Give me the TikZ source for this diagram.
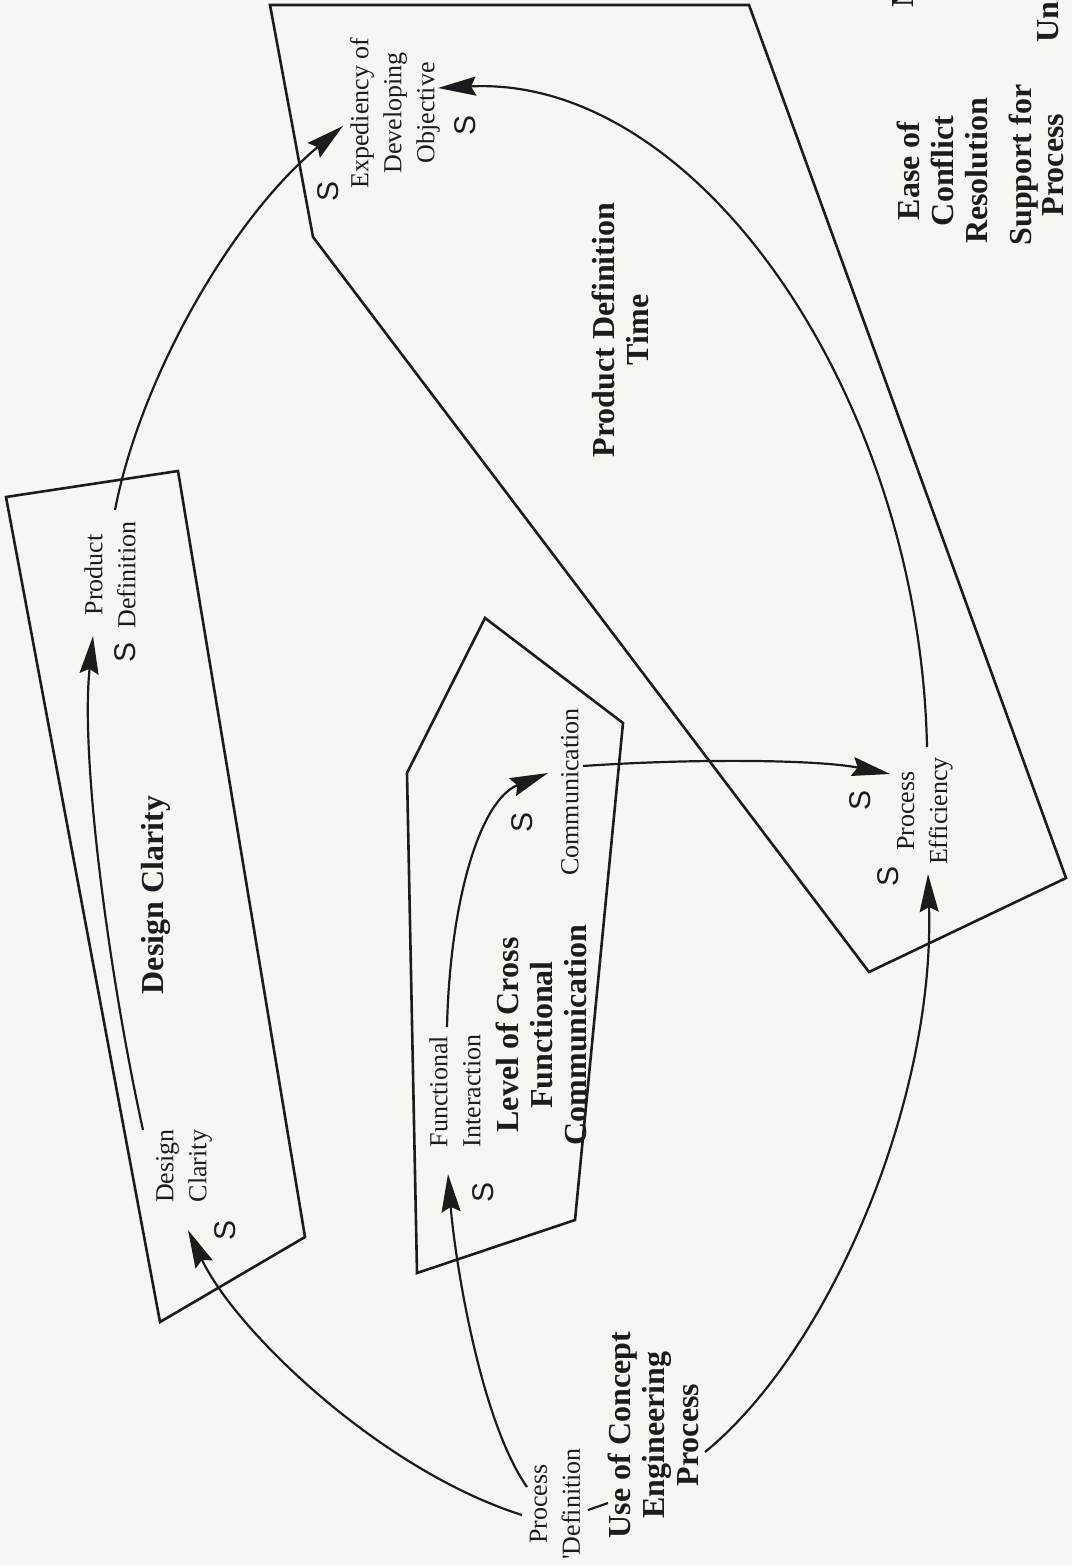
\documentclass[tikz,border=0pt]{standalone}
\usepackage{fontspec}
\setmainfont{Liberation Serif}
\newfontfamily\sansS{Liberation Sans}
\usetikzlibrary{arrows.meta}
\definecolor{ink}{RGB}{28,28,28}
\definecolor{paper}{RGB}{247,247,242}
\begin{document}
\begin{tikzpicture}[x=1pt,y=-1pt,
  frame/.style={draw=ink, line width=2.6pt, line join=miter},
  link/.style={draw=ink, line width=2.2pt, -{Stealth[length=38pt,width=19pt,inset=5pt]}},
  plain/.style={draw=ink, line width=2.2pt},
  big/.style={rotate=90, align=center, text=ink, font=\fontsize{32}{34}\selectfont\bfseries, inner sep=0pt},
  small/.style={rotate=90, align=center, text=ink, font=\fontsize{26}{33}\selectfont, inner sep=0pt},
  sig/.style={rotate=90, text=ink, font=\sansS\fontsize{30}{30}\selectfont, inner sep=0pt}]
\fill[paper] (0,0) rectangle (1072,1565);
\useasboundingbox (0,0) rectangle (1072,1565);

% frames
\draw[frame] (6,497) -- (178,471) -- (305,1237) -- (160,1322) -- cycle;
\draw[frame] (485,618) -- (623,723) -- (575,1220) -- (417,1273) -- (407,773) -- cycle;
\draw[frame] (270,5) -- (749,5) -- (1066,878) -- (869,972) -- (313,237) -- cycle;

% big labels
\node[big] (tDC) at (156,895) {Design Clarity};
\node[big] (tPDT) at (620,330) {Product Definition\\Time};
\node[big] (tLCF) at (541,1035) {Level of Cross\\Functional\\Communication};
\node[big] (tUCE) at (653,1435) {Use of Concept\\Engineering\\Process};
\node[big] (tECR) at (942,171) {Ease of\\Conflict\\Resolution};
\node[big, font=\fontsize{32}{32}\selectfont\bfseries] (tSP) at (1036,165) {Support for\\Process};
\node[big, anchor=base west] (tUn) at (1058,43) {Un};
\node[big, anchor=base west] (tN) at (913,8) {N};

% small labels
\node[small] (dc) at (184,1166) {Design\\Clarity};
\node[small] (pd) at (110,575) {Product\\Definition};
\node[small] (ed) at (395,113) {Expediency of\\Developing\\Objective};
\node[small, align=left] (fi) at (455,1091) {Functional\\Interaction};
\node[small] (cm) at (570,792) {Communication};
\node[small] (pe) at (925,811) {Process\\Efficiency};
\node[small] (pdef) at (555,1504) {Process\\\textquotesingle Definition};

% S signs
\node[sig] (s1) at (225,1230) {S};
\node[sig] (s2) at (125,652) {S};
\node[sig] (s3) at (483,1192) {S};
\node[sig] (s4) at (522,822) {S};
\node[sig] (s5) at (860,800) {S};
\node[sig] (s6) at (888,876) {S};
\node[sig] (s7) at (465,125) {S};
\node[sig] (s8) at (328,191) {S};

% connector end points
\coordinate (pdA) at (522,1515);
\coordinate (pdB) at (527,1487);
\coordinate (ucO) at (705,1452);
\coordinate (dcI) at (188,1230);
\coordinate (dcO) at (143,1130);
\coordinate (pdI) at (93,636);
\coordinate (pdO) at (115,510);
\coordinate (edI1) at (343,126);
\coordinate (edI2) at (438,88);
\coordinate (fiI) at (448,1174);
\coordinate (fiO) at (447,1027);
\coordinate (cmI) at (548,773);
\coordinate (cmO) at (583,766);
\coordinate (peI1) at (890,774);
\coordinate (peI2) at (928,874);
\coordinate (peO) at (927,747);
\coordinate (tk1) at (588,1510);
\coordinate (tk2) at (608,1503);

% connectors
\draw[link] (pdA) .. controls (380,1470) and (235,1330) .. (dcI);
\draw[link] (pdB) .. controls (480,1420) and (455,1260) .. (fiI);
\draw[link] (ucO) .. controls (830,1350) and (935,1100) .. (peI2);
\draw[link] (dcO) .. controls (110,980) and (80,760) .. (pdI);
\draw[link] (pdO) .. controls (140,380) and (230,220) .. (edI1);
\draw[link] (fiO) .. controls (450,900) and (480,800) .. (cmI);
\draw[link] (cmO) .. controls (700,758) and (820,760) .. (peI1);
\draw[link] (peO) .. controls (920,400) and (700,75) .. (edI2);
\draw[plain] (tk1) -- (tk2);
\end{tikzpicture}
\end{document}
